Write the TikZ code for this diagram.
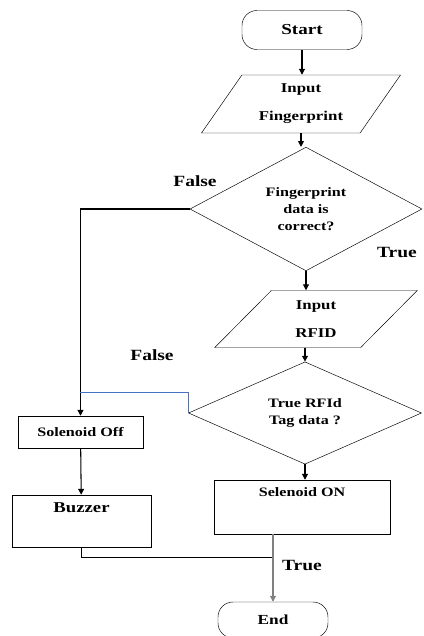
\documentclass[tikz,border=0pt]{standalone}
\usepackage{fontspec}
\setmainfont{Liberation Serif}[FakeStretch=1.25]
\usetikzlibrary{shapes.geometric,arrows.meta,positioning}
\definecolor{wireblue}{RGB}{68,114,196}

\begin{document}
\begin{tikzpicture}[x=0.03cm, y=-0.03cm,
  every node/.style={font=\bfseries\fontsize{11}{14}\selectfont},
  term/.style={draw, rounded corners=0.45cm, minimum width=3.6cm, minimum height=1.17cm},
  io/.style={draw, trapezium, trapezium left angle=55, trapezium right angle=125,
    trapezium stretches=true, align=center, inner sep=1pt,
    font=\bfseries\fontsize{11.5}{14}\selectfont},
  dec/.style={draw, diamond, align=center, inner sep=0pt,
    font=\bfseries\fontsize{11}{14.5}\selectfont},
  box/.style={draw, rectangle},
  lbl/.style={font=\bfseries\fontsize{13.3}{16}\selectfont},
  arr/.style={-{Triangle[length=5pt,width=5pt]}, line width=0.9pt},
  link/.style={line width=0.6pt}]
  \useasboundingbox (0,0) rectangle (424,636);

  \node[term, font=\bfseries\fontsize{13}{15}\selectfont] (st) at (302,30) {Start};
  \node[io, minimum width=5.98cm, minimum height=1.74cm] (in1) at (301,104) {Input\\[10pt]Fingerprint};
  \node[dec, minimum width=6.96cm, minimum height=3.54cm] (d1) at (306,209) {Fingerprint\\data is\\correct?};
  \node[io, minimum width=6.12cm, minimum height=1.71cm] (in2) at (316,319) {Input\\[10pt]RFID};
  \node[dec, minimum width=6.99cm, minimum height=2.91cm] (d2) at (305,413) {True RFId\\Tag data ?};
  \node[box, minimum width=5.28cm, minimum height=1.62cm,
    label={[anchor=north, yshift=-3pt]north:Selenoid ON}] (son) at (302,507) {};
  \node[box, minimum width=3.75cm, minimum height=0.96cm] (soff) at (80.5,432) {Solenoid Off};
  \node[box, minimum width=4.17cm, minimum height=1.56cm,
    label={[anchor=north, yshift=-3pt, font=\bfseries\fontsize{12.8}{15}\selectfont]north:Buzzer}] (buz) at (81.5,521) {};
  \node[term, minimum width=3.3cm, minimum height=1.08cm, font=\bfseries\fontsize{11.8}{14}\selectfont] (en) at (273,620) {End};

  \node[lbl] (f1) at (195,181) {False};
  \node[lbl] (t1) at (397,252) {True};
  \node[lbl] (f2) at (152,355) {False};
  \node[lbl] (t2) at (302,565) {True};

  \coordinate (j2) at (80,392);
  \coordinate (j3) at (273,557);

  % main column
  \draw[arr] (st) -- (st.south |- in1.north);
  \draw[arr] (in1.south) -- (in1.south |- d1.north);
  \draw[arr] (d1.south) -- (d1.south |- in2.north);
  \draw[arr] (d2.north |- in2.south) -- (d2.north);
  \draw[arr] (d2.south) -- (d2.south |- son.north);

  % false branches
  \draw[arr] (d1.west) -| (soff.north);
  \draw[link, wireblue] (d2.west) |- (j2);
  \draw[arr] (soff) -- (buz);
  \draw[link] (buz.south) |- (j3);
  \draw[arr, gray] (son.south -| en.north) -- (en.north);
\end{tikzpicture}
\end{document}
